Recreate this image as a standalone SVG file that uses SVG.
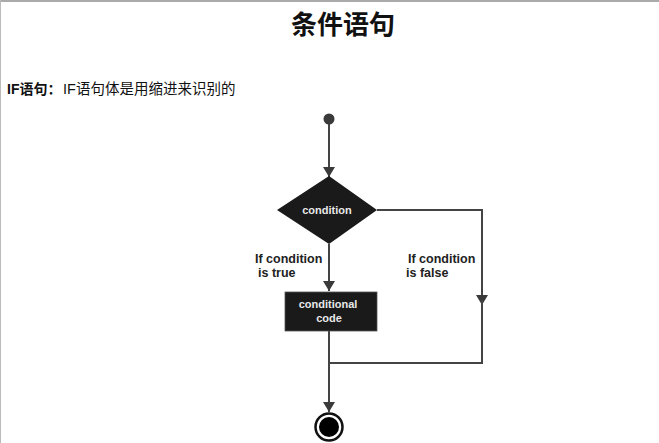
<svg xmlns="http://www.w3.org/2000/svg" width="659" height="443" viewBox="0 0 659 443">
<style>
.cjk{font-family:"Liberation Sans","Noto Sans CJK SC",sans-serif;fill:#111}
.lbl{font-family:"Liberation Sans",Arial,sans-serif;font-weight:bold;font-size:12.5px;fill:#222}
.wlbl{font-family:"Liberation Sans",Arial,sans-serif;font-weight:bold;font-size:11px;fill:#e8e8e8}
.edge{fill:none;stroke:#444;stroke-width:2}
</style>
<defs>
<marker id="arr" viewBox="0 0 10 12" refX="10" refY="6" markerWidth="10" markerHeight="12" markerUnits="userSpaceOnUse" orient="auto">
<path d="M0,0 L10,6 L0,12 Z" fill="#3a3a3a"/>
</marker>
</defs>
<rect x="0" y="0" width="659" height="443" fill="#fff"/>
<line x1="0" y1="1" x2="659" y2="1" stroke="#aaa" stroke-width="2"/>
<line x1="0.5" y1="0" x2="0.5" y2="443" stroke="#bbb" stroke-width="1"/>
<text class="cjk" x="343" y="34" text-anchor="middle" font-size="26" font-weight="bold">条件语句</text>
<text class="cjk" x="7" y="94" font-size="14" font-weight="bold">IF语句：</text>
<text class="cjk" x="63" y="94" font-size="14.5" fill="#222">IF语句体是用缩进来识别的</text>
<g id="connectors">
<path class="edge" d="M329,120 L329,177" marker-end="url(#arr)"/>
<path class="edge" d="M329,244 L329,291" marker-end="url(#arr)"/>
<path class="edge" d="M377,210 L482,210 L482,305" marker-end="url(#arr)"/>
<path class="edge" d="M482,300 L482,363 L329,363"/>
<path class="edge" d="M329,331 L329,412" marker-end="url(#arr)"/>
</g>
<g id="start">
<circle cx="329" cy="119" r="5.5" fill="#3a3a3a"/>
</g>
<g id="condition">
<polygon points="329,176 377,210 329,244 277,210" fill="#1a1a1a"/>
<text class="wlbl" x="327" y="214" text-anchor="middle">condition</text>
</g>
<g id="label-true">
<text class="lbl" x="255" y="263">If condition</text>
<text class="lbl" x="258" y="277">is true</text>
</g>
<g id="label-false">
<text class="lbl" x="408" y="263">If condition</text>
<text class="lbl" x="406" y="277">is false</text>
</g>
<g id="code">
<rect x="285" y="292" width="92" height="39" fill="#1a1a1a" stroke="#555" stroke-width="0.8"/>
<text class="wlbl" x="328" y="308" text-anchor="middle">conditional</text>
<text class="wlbl" x="329" y="322" text-anchor="middle">code</text>
</g>
<g id="end">
<circle cx="329" cy="427" r="13.5" fill="#fff" stroke="#111" stroke-width="2.5"/>
<circle cx="329" cy="427" r="10" fill="#000"/>
</g>
</svg>
